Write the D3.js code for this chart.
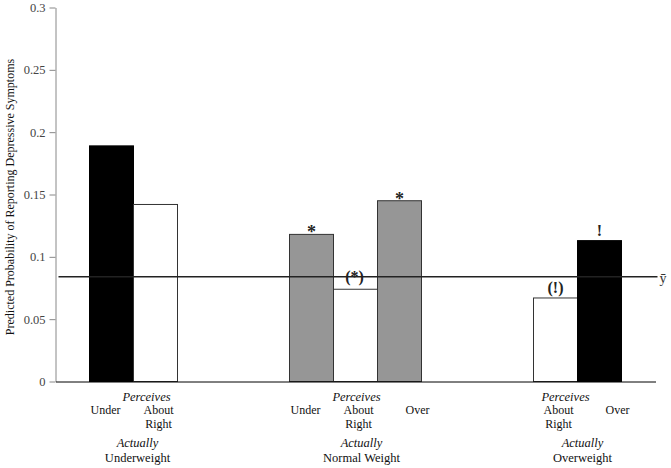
<!DOCTYPE html>
<html><head><meta charset="utf-8">
<script src="https://cdn.jsdelivr.net/npm/d3@7"></script>
<style>body{margin:0;background:#fff}svg{display:block}</style>
</head><body>
<svg id="c" width="671" height="468"></svg>
<script>
// Data
const groups = ["Underweight", "Normal Weight", "Overweight"];
const perceptions = ["Under", "About Right", "Over"];
const underweightVals = [0.189, 0.142, null];
const normalVals = [0.118, 0.074, 0.145];
const overweightVals = [null, 0.067, 0.113];
const meanValue = 0.084;
const yTicks = [0, 0.05, 0.1, 0.15, 0.2, 0.25, 0.3];
const yTickLabels = ["0", "0.05", "0.1", "0.15", "0.2", "0.25", "0.3"];
const marks = [["Normal Weight","Under","*"],["Normal Weight","About Right","(*)"],["Normal Weight","Over","*"],["Overweight","About Right","(!)"],["Overweight","Over","!"]];

const FF = "Liberation Serif";
const seriesByGroup = [underweightVals, normalVals, overweightVals];
const rows = [];
groups.forEach((g,i)=>perceptions.forEach((p,j)=>{ if(seriesByGroup[i][j]!=null) rows.push({g,p,v:seriesByGroup[i][j]}); }));

const svg = d3.select("#c");
const L = 55.5, R = 655.5, T = 7.5, B = 381.5;
const x0 = d3.scaleBand().domain(groups).range([L,R]).padding(0);
const x1 = d3.scaleBand().domain(perceptions).range([34,166]).padding(0);
const y = d3.scaleLinear().domain([0,0.3]).range([B,T]);

function fillFor(d){
  if(d.p==="About Right") return "#fff";
  if(d.g==="Normal Weight") return "#969696";
  return "#000";
}

// bars
svg.append("g").selectAll("rect").data(rows).join("rect")
  .attr("x", d=>x0(d.g)+x1(d.p))
  .attr("y", d=>y(d.v))
  .attr("width", x1.bandwidth())
  .attr("height", d=>B-y(d.v))
  .attr("fill", fillFor)
  .attr("stroke", d=>fillFor(d)==="#000"?"#000":"#333")
  .attr("stroke-width", 1);

// y axis
const ya = svg.append("g").attr("transform",`translate(${L},0)`)
  .call(d3.axisLeft(y).tickValues(yTicks).tickFormat((d,i)=>yTickLabels[i]).tickSize(6).tickSizeOuter(0));
ya.select(".domain").attr("stroke","#888");
ya.selectAll(".tick line").attr("stroke","#888");
ya.selectAll(".tick text").attr("font-size",12.5).attr("fill","#444").attr("x",-10).attr("font-family",FF);

// x axis baseline
svg.append("g").attr("transform",`translate(0,${B})`)
  .call(d3.axisBottom(x0).tickSize(0).tickFormat(""))
  .select(".domain").attr("stroke","#000");

// mean line
svg.append("line").attr("x1",L+3).attr("x2",R+2).attr("y1",y(meanValue)).attr("y2",y(meanValue))
  .attr("stroke","#222").attr("stroke-width",1.5);
svg.append("text").attr("x",R+4).attr("y",y(meanValue)+6).attr("font-size",14).attr("fill","#333").attr("font-family",FF).text("ȳ");

// significance marks
marks.forEach(([g,p,s])=>{
  const row = rows.find(r=>r.g===g&&r.p===p);
  let cx = x0(g)+x1(p)+x1.bandwidth()/2;
  let yy = y(row.v)-5;
  if(s==="(*)"){ cx -= 1; yy = y(meanValue)+5; }
  if(s==="*") yy += 9;
  svg.append("text").attr("x",cx).attr("y",yy).attr("text-anchor","middle").attr("font-family",FF)
    .attr("font-size", s==="*"?18:16).attr("font-weight","bold").attr("fill","#222").text(s);
});

// category labels
const perceivesOff = [91,101,110];
const actuallyOff = [82,106,127];
const catOff = {"Under":50,"About Right":103,"Over":162};
groups.forEach((g,i)=>{
  const gx = x0(g);
  const gg = svg.append("g").attr("font-size",12.5).attr("fill","#111").attr("text-anchor","middle");
  gg.append("text").attr("x",gx+perceivesOff[i]).attr("y",401).attr("font-style","italic").attr("font-family",FF).text("Perceives");
  perceptions.forEach((p,j)=>{
    if(seriesByGroup[i][j]==null) return;
    const words = p.split(" ");
    words.forEach((w,k)=>{
      gg.append("text").attr("x",gx+catOff[p]).attr("y",414+k*13.5).attr("font-size",12).attr("font-family",FF).text(w);
    });
  });
  gg.append("text").attr("x",gx+actuallyOff[i]).attr("y",447).attr("font-style","italic").attr("font-family",FF).text("Actually");
  gg.append("text").attr("x",gx+actuallyOff[i]).attr("y",462).attr("font-family",FF).text(g);
});

// y title
svg.append("text").attr("transform","translate(13.5,197) rotate(-90)").attr("text-anchor","middle").attr("font-family",FF)
  .attr("font-size",12).attr("fill","#111").text("Predicted Probability of Reporting Depressive Symptoms");
</script>
</body></html>
